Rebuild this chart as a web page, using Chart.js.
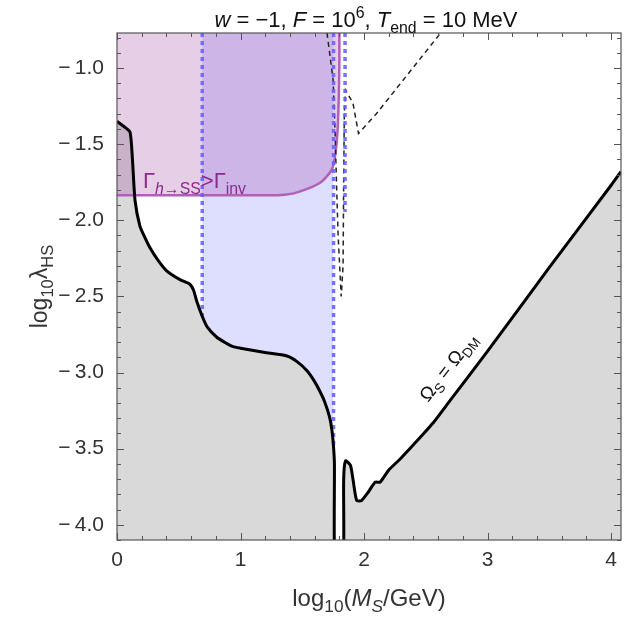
<!DOCTYPE html>
<html>
<head>
<meta charset="utf-8">
<script src="https://cdn.jsdelivr.net/npm/chart.js@4"></script>
<style>
  html, body { margin: 0; padding: 0; background: #fff; }
  #wrap { width: 630px; height: 618px; }
</style>
</head>
<body>
<div id="wrap"><canvas id="chart" width="630" height="618"></canvas></div>
<script>
// relic-density curve (Omega_S = Omega_DM)
const curveX = [0, 0.05, 0.105, 0.125, 0.146, 0.186, 0.23, 0.267, 0.33, 0.40, 0.51, 0.59, 0.62, 0.645, 0.69,
  0.73, 0.81, 0.89, 0.94, 1.0, 1.21, 1.37, 1.46, 1.54, 1.60, 1.64, 1.68, 1.72, 1.74, 1.753, 1.76, 1.765,
  1.83, 1.835, 1.85, 1.89, 1.91, 1.94, 1.98, 2.03, 2.09, 2.13, 2.20, 2.29, 2.37, 2.45, 2.56, 2.70, 3.0, 3.5, 4.0, 4.08];
const curveY = [-1.35, -1.38, -1.42, -1.6, -1.87, -2.04, -2.12, -2.18, -2.26, -2.33, -2.39, -2.42, -2.46, -2.53, -2.63,
  -2.70, -2.77, -2.81, -2.83, -2.84, -2.87, -2.89, -2.93, -2.99, -3.06, -3.12, -3.19, -3.29, -3.38, -3.49, -3.6, -4.3,
  -4.3, -3.7, -3.58, -3.61, -3.70, -3.84, -3.84, -3.79, -3.72, -3.72, -3.64, -3.57, -3.50, -3.43, -3.33, -3.18, -2.86, -2.31, -1.77, -1.68];

// dashed black contour
const dashX = [1.70, 1.75, 1.765, 1.775, 1.79, 1.815, 1.83, 1.835, 1.84, 1.85, 1.91, 1.955, 2.1, 2.62];
const dashY = [-0.77, -1.08, -1.41, -1.7, -2.1, -2.5, -2.3, -1.75, -1.3, -1.145, -1.23, -1.43, -1.30, -0.77];

// Gamma(h->SS) > Gamma_inv boundary
const pinkX = [0, 1.3, 1.42, 1.50, 1.58, 1.65, 1.70, 1.74, 1.765, 1.785, 1.795, 1.80, 1.80];
const pinkY = [-1.835, -1.835, -1.825, -1.805, -1.78, -1.75, -1.71, -1.665, -1.58, -1.42, -1.2, -0.97, -0.77];

// blue dashed verticals: x position and lower end
const blueX = [0.69, 1.753, 1.846];
const blueLow = [-2.63, -3.49, -1.945];

const xTicks = [0, 1, 2, 3, 4];
const yTicks = [-4, -3.5, -3, -2.5, -2, -1.5, -1];
const xMin = 0, xMax = 4.08, yMin = -4.1, yMax = -0.77;

const pts = (xs, ys) => xs.map((x, i) => ({ x: x, y: ys[i] }));

// shaded blue band: between the first two blue lines, above the curve
const bandPts = [{ x: blueX[0], y: yMax }]
  .concat(pts(curveX, curveY).filter(p => p.x >= blueX[0] && p.x <= blueX[1]))
  .concat([{ x: blueX[1], y: yMax }]);

const FONT = '"Liberation Sans", Arial, sans-serif';
const SUB = 0.72;

function runFont(r, size) {
  const s = r.sub || r.sup ? size * SUB : size;
  return (r.i ? 'italic ' : '') + s + 'px ' + FONT;
}

function richWidth(ctx, runs, size) {
  let w = 0;
  runs.forEach(r => { ctx.font = runFont(r, size); w += ctx.measureText(r.t).width; });
  return w;
}

function drawRich(ctx, runs, size, x, y, align) {
  let cx = align === 'center' ? x - richWidth(ctx, runs, size) / 2 : x;
  ctx.textBaseline = 'alphabetic';
  ctx.textAlign = 'left';
  runs.forEach(r => {
    ctx.font = runFont(r, size);
    const dy = r.sub ? size * 0.25 : (r.sup ? -size * 0.4 : 0);
    ctx.fillText(r.t, cx, y + dy);
    cx += ctx.measureText(r.t).width;
  });
}

const decor = {
  id: 'decor',
  afterDatasetsDraw(chart) {
    const ctx = chart.ctx;
    const a = chart.chartArea;
    const xs = chart.scales.x, ys = chart.scales.y;
    ctx.save();

    // frame
    ctx.strokeStyle = '#555';
    ctx.lineWidth = 1.2;
    ctx.strokeRect(a.left, a.top, a.right - a.left, a.bottom - a.top);

    // inner ticks on all four sides
    ctx.lineWidth = 1;
    ctx.beginPath();
    for (let k = 0; k <= Math.round(xMax / 0.2); k++) {
      const v = k * 0.2;
      if (v > xMax) break;
      const len = Math.abs(v - Math.round(v)) < 1e-6 ? 7 : 4;
      const px = Math.round(xs.getPixelForValue(v)) + 0.5;
      ctx.moveTo(px, a.bottom); ctx.lineTo(px, a.bottom - len);
      ctx.moveTo(px, a.top); ctx.lineTo(px, a.top + len);
    }
    for (let k = -41; k <= -8; k++) {
      const v = k / 10;
      if (v < yMin || v > yMax) continue;
      const len = (k % 5 === 0) ? 7 : 4;
      const py = Math.round(ys.getPixelForValue(v)) + 0.5;
      ctx.moveTo(a.left, py); ctx.lineTo(a.left + len, py);
      ctx.moveTo(a.right, py); ctx.lineTo(a.right - len, py);
    }
    ctx.stroke();

    // region label
    ctx.fillStyle = '#8e2a8e';
    drawRich(ctx, [{ t: 'Γ' }, { t: 'h', sub: true, i: true }, { t: '→SS', sub: true }, { t: '>' }, { t: 'Γ' }, { t: 'inv', sub: true }],
      22, xs.getPixelForValue(0.21), ys.getPixelForValue(-1.79), 'left');

    // curve label
    ctx.fillStyle = '#111';
    ctx.save();
    ctx.translate(xs.getPixelForValue(2.72), ys.getPixelForValue(-2.99));
    ctx.rotate(-52 * Math.PI / 180);
    drawRich(ctx, [{ t: 'Ω' }, { t: 'S', sub: true }, { t: ' = ' }, { t: 'Ω' }, { t: 'DM', sub: true }], 19, 0, 0, 'center');
    ctx.restore();

    // title
    const midX = (a.left + a.right) / 2;
    ctx.fillStyle = '#111';
    drawRich(ctx, [{ t: 'w', i: true }, { t: ' = \u22121, ' }, { t: 'F', i: true }, { t: ' = 10' }, { t: '6', sup: true },
      { t: ', ' }, { t: 'T', i: true }, { t: 'end', sub: true }, { t: ' = 10 MeV' }], 22, midX - 3, 27, 'center');

    // axis titles
    ctx.fillStyle = '#333';
    drawRich(ctx, [{ t: 'log' }, { t: '10', sub: true }, { t: '(' }, { t: 'M', i: true }, { t: 'S', sub: true, i: true }, { t: '/GeV)' }],
      24, midX, 606, 'center');
    ctx.save();
    ctx.translate(47, (a.top + a.bottom) / 2);
    ctx.rotate(-Math.PI / 2);
    drawRich(ctx, [{ t: 'log' }, { t: '10', sub: true }, { t: 'λ' }, { t: 'HS', sub: true }], 23, 0, 0, 'center');
    ctx.restore();

    ctx.restore();
  }
};

new Chart(document.getElementById('chart'), {
  type: 'scatter',
  data: {
    datasets: [
      { // gray excluded area below the curve
        data: pts(curveX, curveY), showLine: true, fill: 'start', tension: 0.2,
        backgroundColor: '#d9d9d9', borderWidth: 0, pointRadius: 0, order: 10
      },
      { // blue band
        data: bandPts, showLine: true, fill: 'end', tension: 0.2,
        backgroundColor: 'rgba(90,90,255,0.2)', borderWidth: 0, pointRadius: 0, order: 9
      },
      { // pink region
        data: pts(pinkX, pinkY), showLine: true, fill: 'end', tension: 0.2,
        backgroundColor: 'rgba(160,60,160,0.25)', borderColor: '#b060b8', borderWidth: 2.5, pointRadius: 0, order: 8
      },
      { // dashed black contour
        data: pts(dashX, dashY), showLine: true, fill: false,
        borderColor: '#222', borderWidth: 1.5, borderDash: [5, 4], pointRadius: 0, order: 5
      },
      ...blueX.map((x, i) => ({
        data: [{ x: x, y: yMax }, { x: x, y: blueLow[i] }], showLine: true, fill: false,
        borderColor: 'rgba(100,100,255,0.9)', borderWidth: 3.5, borderDash: [4, 4], pointRadius: 0, order: 4
      })),
      { // relic curve
        data: pts(curveX, curveY), showLine: true, fill: false, tension: 0.2,
        borderColor: '#000', borderWidth: 3, pointRadius: 0, order: 1
      }
    ]
  },
  options: {
    responsive: false,
    animation: false,
    events: [],
    layout: { padding: { top: 33, right: 9, left: 0, bottom: 0 } },
    plugins: { legend: { display: false }, tooltip: { enabled: false }, title: { display: false } },
    scales: {
      x: {
        type: 'linear', min: xMin, max: xMax,
        grid: { display: false, drawTicks: false },
        border: { display: false },
        afterBuildTicks: s => { s.ticks = xTicks.map(v => ({ value: v })); },
        afterFit: s => { s.height = 78; },
        ticks: { color: '#333', padding: 8, font: { family: FONT, size: 21 }, callback: v => String(v) }
      },
      y: {
        type: 'linear', min: yMin, max: yMax,
        grid: { display: false, drawTicks: false },
        border: { display: false },
        afterBuildTicks: s => { s.ticks = yTicks.map(v => ({ value: v })); },
        afterFit: s => { s.width = 117; },
        ticks: { color: '#333', padding: 13, font: { family: FONT, size: 21 },
          callback: v => '\u2212\u2009' + Math.abs(v).toFixed(1) }
      }
    }
  },
  plugins: [decor]
});
</script>
</body>
</html>
